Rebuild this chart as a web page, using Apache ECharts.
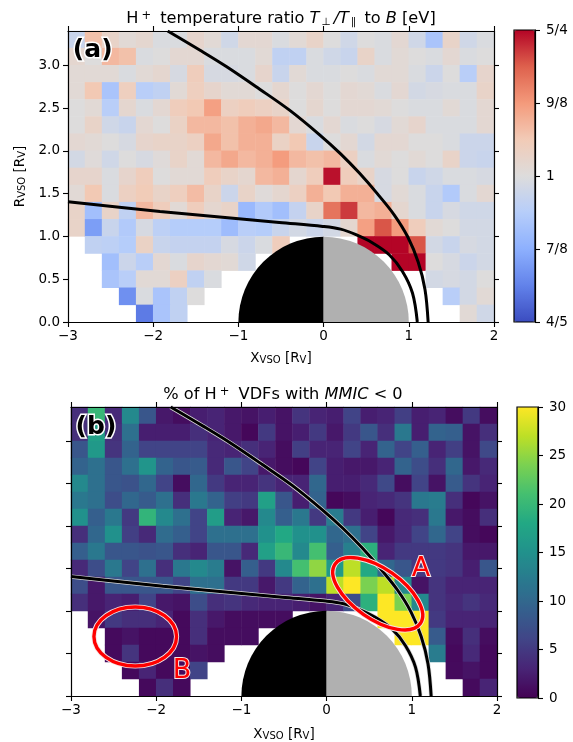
<!DOCTYPE html>
<html>
<head>
<meta charset="utf-8">
<style>html,body{margin:0;padding:0;background:#fff}#c{width:573px;height:742px}</style>
<script src="https://cdn.jsdelivr.net/npm/echarts@6/dist/echarts.min.js"></script>
</head>
<body>
<div id="c"></div>
<script>
const _ = null;
const xBins = ['-3.0','-2.8','-2.6','-2.4','-2.2','-2.0','-1.8','-1.6','-1.4','-1.2','-1.0','-0.8','-0.6','-0.4','-0.2','0.0','0.2','0.4','0.6','0.8','1.0','1.2','1.4','1.6','1.8'];
const yBins = ['0.0','0.2','0.4','0.6','0.8','1.0','1.2','1.4','1.6','1.8','2.0','2.2','2.4','2.6','2.8','3.0','3.2'];
const yTickValues = [0,.5,1,1.5,2,2.5,3];

// Panel (a): temperature ratio, rows listed from the top (y=3.2-3.4) to the bottom (y=0-0.2)
const ratioRows = [
[.97,1.07,1.03,1.01,1.02,.995,.995,1.025,1.01,.98,1.015,1.015,.995,1.01,1.03,1.0,.98,1.0,.995,1.015,.98,.93,1.03,.98,.995],
[1.02,1.0,1.08,1.07,.995,1.0,1.015,1.015,.995,.995,.995,1.01,.96,.96,.995,.98,.97,1.03,.995,1.01,1.0,.995,1.015,.995,1.0],
[1.01,1.01,1.01,.995,1.01,1.02,.99,1.05,.99,.99,.995,1.025,.97,1.01,.995,.995,1.0,.995,1.01,1.01,.995,.975,1.0,.95,1.025],
[1.01,1.06,.93,1.045,.95,.96,1.01,1.045,1.025,1.01,1.01,1.0,1.02,1.0,1.015,1.0,1.015,1.01,.995,1.015,.985,.99,.995,.995,1.03],
[1.0,1.01,.95,1.02,.995,1.015,1.05,1.06,1.11,1.04,1.05,1.04,1.03,1.0,1.02,1.0,1.015,1.015,1.01,1.0,.995,.995,1.01,.995,1.015],
[1.0,1.03,.98,.97,1.015,1.0,1.035,1.08,1.08,1.07,1.09,1.1,1.08,1.015,.995,1.015,.995,1.0,.99,1.01,1.025,.995,.995,.995,1.015],
[1.015,1.01,1.0,.99,1.025,1.03,1.03,1.04,1.1,1.07,1.09,1.09,1.035,1.06,.97,1.0,1.015,.985,1.015,1.015,1.0,1.0,.995,.975,.975],
[.985,1.005,.98,1.0,.99,1.005,1.03,1.01,1.08,1.1,1.08,1.09,1.115,1.08,1.07,1.08,1.04,.995,1.01,1.0,1.01,1.0,1.03,.975,.97],
[1.025,1.025,.995,1.025,1.05,1.0,1.01,1.01,1.05,1.03,1.02,1.08,1.09,1.02,1.05,1.24,1.05,1.03,.99,1.0,.97,.98,.995,.995,.99],
[1.01,1.06,.995,1.04,1.055,1.03,1.045,1.075,1.03,.975,1.03,1.005,1.02,1.04,1.09,1.06,1.09,1.09,.99,1.01,.995,.97,.94,.995,1.015],
[1.03,.92,1.03,.96,1.08,1.05,1.01,1.05,1.02,1.03,.91,.94,.92,.965,1.03,1.16,1.21,1.08,1.09,1.02,.995,.97,.99,.98,.98],
[1.03,.875,.97,.94,.99,.955,.945,.945,.945,.915,.95,.945,.97,.985,.975,.985,1.02,1.11,1.19,1.115,1.05,1.01,1.0,.985,.985],
[_,.96,.955,.945,1.035,.97,.965,.965,.965,.99,.975,.995,1.05,_,_,_,_,1.25,1.25,1.25,1.19,.985,.97,.99,.985],
[_,_,.92,.975,.95,1.015,.995,1.025,1.015,1.01,.98,_,_,_,_,_,_,_,_,1.25,1.25,1.0,.99,.975,.985],
[_,_,.93,.95,1.01,1.01,1.04,.96,.995,_,_,_,_,_,_,_,_,_,_,_,_,.985,.99,.985,1.0],
[_,_,_,.86,.995,.93,.96,1.0,_,_,_,_,_,_,_,_,_,_,_,_,_,_,.95,.985,1.01],
[_,_,_,_,.84,.93,.96,_,_,_,_,_,_,_,_,_,_,_,_,_,_,_,_,1.01,.98]
];

// Panel (b): % of VDFs with MMIC<0, rows listed from the top to the bottom
const mmicRows = [
[4,20,3.5,14,8,2,1,2.5,3,2,1.5,2.5,1.5,4.5,3,2.5,6,2.5,3,5.5,2.5,3,1,5,1],
[4,17,4,11,2.5,2.5,2.5,4,3,2,.5,5,1.5,2.5,5,2,5,8,4,12,2.5,9.5,9,1.5,4],
[8,16,4.5,9.5,6,6,6,6,3.5,3,4,3,1,5.5,3,3,6,3,9.5,6,9,3,5.5,1.5,6.5],
[9.5,11,8,11,15.5,9.5,8,8.5,3.5,8,6,2,1,.5,6,2.5,2,2,3,9.5,7,4,10,2,3.5],
[14,11,8,7.5,10,6,1,10,5,3,3,4.5,3,3,10,2.5,2.5,3.5,6.5,1,6,1.5,8.5,4.5,3],
[12,11,7,10,8.5,11,4,12,9.5,5.5,5,17,8,2.5,9.5,.5,1,3,3.5,4.5,12,12.5,4,.5,1.5],
[15,9,12,5,19.5,14,11,6,16.5,3,2,14,9,12,5,12.5,5,2.5,.5,3.5,4,12,2,1,4],
[4,10,15,5.5,3.5,10.5,9,6,11,11,11,15,18,15,15,10,11,6,2,3.5,6,10,6,1,.5],
[9,12,8,8,7.5,8,4,3,8,8,3.5,17,20,14,21,9,13,19,3,5,5,5,4.5,2,2],
[3.5,7,12,6,11,4,12,14,12.5,1.5,9,5,14,21,25,16,27,18,10,8,5,5,4.5,2.5,8],
[7,2,8,8,8,8,6,11,11,5,5,2,5,9.5,11,27,30,24,27,14,1.5,4.5,3,3,3],
[4,2,3,2.5,6,2,1.5,7,4,4.5,3.5,3,3,2.5,1.5,3,7,19,30,24,14,4.5,3.5,4.5,3.5],
[_,1.5,5,4,4,3,.7,4,2,1,1,1,1,_,_,_,_,_,30,30,30,5,3,3,3],
[_,_,.8,1.5,.7,.7,.7,4,1,1,1,_,_,_,_,_,_,_,_,30,30,8.5,1,4,1],
[_,_,.8,4.5,.7,.7,.7,1.5,1,_,_,_,_,_,_,_,_,_,_,_,_,12.5,.7,3.5,.7],
[_,_,_,.7,3,.7,.7,6,_,_,_,_,_,_,_,_,_,_,_,_,_,_,.8,1.5,.7],
[_,_,_,_,.7,4,.7,_,_,_,_,_,_,_,_,_,_,_,_,_,_,_,_,.8,3]
];

// Boundaries: [x, y]
const bowShock = [[-1.83,3.40],[-1.45,3.175],[-1.142,2.985],[-.75,2.72],[-.40,2.475],[-.05,2.19],[.2,1.965],[.42,1.74],[.63,1.50],[.83,1.25],[.99,.99],[1.11,.70],[1.19,.38],[1.227,0]];
const ionopause = [[-3,1.405],[-1.92,1.292],[-.52,1.163],[-.01,1.117],[.2,1.085],[.38,1.02],[.571,.926],[.77,.786],[.926,.591],[1.043,.339],[1.10,0]];
const planet = [[0,0,1]];

const ratioTicks = ['4/5','7/8','1','9/8','5/4'];
const mmicTicks = [0,5,10,15,20,25,30];
// Ellipses: centre x, centre y, semi-major, semi-minor (data units), tilt in degrees
const ellipseA = [.6,1.203,.61,.295,35];
const ellipseB = [-2.246,.70,.485,.347,0];
const annotationsA = [[-2.71,3.17,'(a)']];
const annotationsB = [[-2.707,3.154,'(b)']];
const circledLabels = [[1.108,1.495,'A'],[-1.697,.30,'B']];

const coolwarm = ['#3b4cc0','#6282ea','#8db0fe','#b6cdfa','#dddcdc','#f2cbb7','#f49a7b','#de614d','#b40426'];
const viridis = ['#440154','#482475','#414487','#355f8d','#2a788e','#21918c','#22a884','#44bf70','#7ad151','#bddf26','#fde725'];

const FONT = '"DejaVu Sans"';
const logScale = v => Math.max(-1, Math.min(1, Math.log(v) / Math.log(1.25)));
function cells(rows, fn) {
  const out = [];
  rows.forEach((row, r) => row.forEach((v, c) => {
    if (v !== null) out.push([c, rows.length - 1 - r, fn(v)]);
  }));
  return out;
}
const GRIDS = [
  {left:68, top:31, width:426, height:291},
  {left:71, top:407, width:426, height:291},
  {left:514, top:30, width:21, height:292, show:true, borderColor:'#000', borderWidth:1.2, z:3, backgroundColor:'transparent'},
  {left:517, top:407, width:21, height:291, show:true, borderColor:'#000', borderWidth:1.2, z:3, backgroundColor:'transparent'}
];
const axisBase = {
  z:6,
  axisLine:{show:true, onZero:false, lineStyle:{color:'#000', width:1.2}},
  axisTick:{show:true, length:5, lineStyle:{color:'#000', width:1.1}},
  splitLine:{show:false}, minorTick:{show:false}
};
const nameRich = {
  x:{fontFamily:FONT,fontSize:13.5,color:'#000'},
  s:{fontFamily:FONT,fontSize:10,color:'#000',verticalAlign:'bottom',lineHeight:14,padding:[5,0,0,0]}
};
function valueX(grid, pos, labels, gap) {
  return Object.assign({}, axisBase, {
    type:'value', gridIndex:grid, position:pos, min:-3, max:2, interval:1,
    axisLabel:{show:labels, fontFamily:FONT, fontSize:13.5, color:'#000', margin:7, formatter:v=>String(v).replace('-','\u2212')}
  }, labels ? {name:'{x|X}{s|VSO}{x| [R}{s|V}{x|]}', nameLocation:'middle', nameGap:gap, nameTextStyle:{rich:nameRich}} : {});
}
function valueY(grid, pos, labels, name) {
  return Object.assign({}, axisBase, {
    type:'value', gridIndex:grid, position:pos, min:0, max:3.4, interval:.5,
    axisTick:Object.assign({}, axisBase.axisTick, {customValues:yTickValues}),
    axisLabel:{show:labels, customValues:yTickValues, fontFamily:FONT, fontSize:13.5, color:'#000', margin:8, formatter:v=>v.toFixed(1)}
  }, name ? {
    name:'{x|R}{s|VSO}{x| [R}{s|V}{x|]}', nameLocation:'middle', nameGap:34, nameTextStyle:{rich:nameRich}
  } : {});
}
const catX = g => ({type:'category', gridIndex:g, data:xBins, show:false, boundaryGap:true});
const catY = g => ({type:'category', gridIndex:g, data:yBins, show:false, boundaryGap:true});
const hiddenX = g => ({type:'value', gridIndex:g, show:false, min:0, max:1});

function planetItem(params, api) {
  const c = api.coord([api.value(0), api.value(1)]);
  const r = api.size([api.value(2), 0])[0];
  return {type:'group', children:[
    {type:'sector', shape:{cx:c[0],cy:c[1],r:r,r0:0,startAngle:Math.PI,endAngle:1.5*Math.PI,clockwise:true}, style:{fill:'#000'}},
    {type:'sector', shape:{cx:c[0],cy:c[1],r:r,r0:0,startAngle:1.5*Math.PI,endAngle:2*Math.PI,clockwise:true}, style:{fill:'#b0b0b0'}}
  ]};
}
function ellipseItem(params, api) {
  const c = api.coord([api.value(0), api.value(1)]);
  const s = api.size([api.value(2), api.value(3)]);
  const rot = -api.value(4) * Math.PI / 180;
  const mk = (w, col) => ({type:'ellipse', x:c[0], y:c[1], rotation:rot, shape:{cx:0,cy:0,rx:s[0],ry:s[1]}, style:{fill:'none', stroke:col, lineWidth:w}});
  return {type:'group', children:[mk(5.2,'#f4e6e6'), mk(3.4,'#ff0000')]};
}
function boundary(data, xi, yi, color, width, z) {
  return {type:'line', data:data, xAxisIndex:xi, yAxisIndex:yi, showSymbol:false, smooth:.35, clip:true, z:z,
    silent:true, lineStyle:{color:color, width:width, cap:'butt'}, itemStyle:{color:color}};
}
function textMarks(data, xi, yi, size, weight, fill, border, bw) {
  return {type:'scatter', data:data, xAxisIndex:xi, yAxisIndex:yi, symbolSize:0, silent:true, z:8,
    itemStyle:{opacity:1},
    label:{show:true, position:'inside', opacity:1, formatter:p=>p.value[2], fontFamily:FONT, fontSize:size, fontWeight:weight, color:fill, textBorderColor:border, textBorderWidth:bw}};
}
const titleBase = {fontFamily:FONT,fontWeight:'normal',color:'#000'};
const titleRich = {
  t:Object.assign({fontSize:16.2},titleBase),
  i:Object.assign({fontSize:16.2,fontStyle:'italic'},titleBase),
  u:Object.assign({fontSize:11.5,verticalAlign:'top',padding:[0,4,6,3]},titleBase),
  d:Object.assign({fontSize:10.5,verticalAlign:'bottom',padding:[6,3,0,2]},titleBase)
};

const option = {
  animation:false, backgroundColor:'#fff',
  title:[
    {text:'{t|H}{u|+}{t| temperature ratio }{i|T}{d|\u22A5}{i|/T}{d|\u2225}{t| to }{i|B}{t| [eV]}', left:276, top:5, textAlign:'center', textStyle:{fontWeight:'normal',rich:titleRich}},
    {text:'{t|% of H}{u|+}{t| VDFs with }{i|MMIC}{t| < 0}', left:278, top:381, textAlign:'center', textStyle:{fontWeight:'normal',rich:titleRich}}
  ],
  grid:GRIDS,
  xAxis:[catX(0), valueX(0,'bottom',true,29), valueX(0,'top',false), catX(1), valueX(1,'bottom',true,31), valueX(1,'top',false), hiddenX(2), hiddenX(3)],
  yAxis:[catY(0), valueY(0,'left',true,true), valueY(0,'right',false), catY(1), valueY(1,'left',false), valueY(1,'right',false),
    Object.assign({}, axisBase, {type:'value', gridIndex:2, position:'right', min:-1, max:1, interval:.5,
      axisLabel:{fontFamily:FONT, fontSize:13.5, color:'#000', margin:11, formatter:v=>ratioTicks[Math.round((v+1)/.5)]}}),
    Object.assign({}, axisBase, {type:'value', gridIndex:3, position:'right', min:0, max:30, interval:5,
      axisLabel:{fontFamily:FONT, fontSize:13.5, color:'#000', margin:11, formatter:v=>String(mmicTicks[Math.round(v/5)])}})
  ],
  visualMap:[
    {type:'continuous', seriesIndex:0, dimension:2, min:-1, max:1, calculable:false, show:true, left:514, top:30, itemWidth:21, itemHeight:292, padding:0, z:1, inRange:{color:coolwarm}},
    {type:'continuous', seriesIndex:1, dimension:2, min:0, max:30, calculable:false, show:true, left:517, top:407, itemWidth:21, itemHeight:291, padding:0, z:1, inRange:{color:viridis}}
  ],
  series:[
    {type:'heatmap', data:cells(ratioRows, logScale), xAxisIndex:0, yAxisIndex:0, z:1, silent:true},
    {type:'heatmap', data:cells(mmicRows, v=>v), xAxisIndex:3, yAxisIndex:3, z:1, silent:true},
    {type:'custom', data:planet, xAxisIndex:1, yAxisIndex:1, renderItem:planetItem, z:3, silent:true, clip:true},
    boundary(bowShock,1,1,'#000',3,4),
    boundary(ionopause,1,1,'#000',3,4),
    textMarks(annotationsA,1,1,25,'bold','#000','#fff',3),
    {type:'custom', data:planet, xAxisIndex:4, yAxisIndex:4, renderItem:planetItem, z:3, silent:true, clip:true},
    boundary(bowShock,4,4,'#d8d8d8',4.4,4),
    boundary(ionopause,4,4,'#d8d8d8',4.4,4),
    boundary(bowShock,4,4,'#000',3,5),
    boundary(ionopause,4,4,'#000',3,5),
    {type:'custom', data:[ellipseA, ellipseB], xAxisIndex:4, yAxisIndex:4, renderItem:ellipseItem, z:6, silent:true, clip:false},
    textMarks(annotationsB,4,4,25,'bold','#000','#fff',3),
    textMarks(circledLabels,4,4,27,'normal','#ff0000','#f6e6e6',2)
  ]
};
const chart = echarts.init(document.getElementById('c'), null, {renderer:'canvas', width:573, height:742});
chart.setOption(option);
</script>
</body>
</html>
